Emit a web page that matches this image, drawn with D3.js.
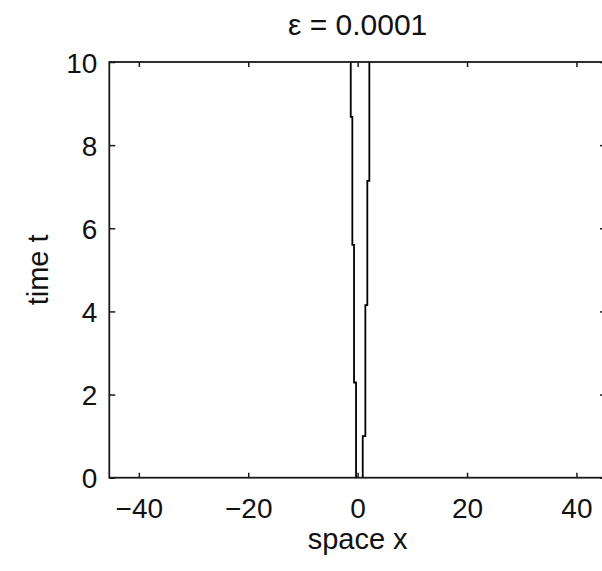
<!DOCTYPE html>
<html>
<head>
<meta charset="utf-8">
<script src="https://cdn.jsdelivr.net/npm/d3@7"></script>
<style>
  html, body { margin: 0; padding: 0; background: #fff; }
  svg { display: block; }
  text { font-family: "Liberation Sans", Arial, Helvetica, sans-serif; fill: #111; }
</style>
</head>
<body>
<svg id="chart" width="602" height="571"></svg>
<script>
// Axis ticks
const xTicks = [-40, -20, 0, 20, 40];
const yTicks = [0, 2, 4, 6, 8, 10];

// Left front: position in each time interval and the times where it jumps
const leftJumpTimes = [2.29, 5.6, 8.68];
const leftPositions = [-0.29, -0.66, -0.97, -1.26];

// Right front
const rightJumpTimes = [1.0, 4.15, 7.14];
const rightPositions = [0.93, 1.41, 1.77, 2.14];

const tMin = 0, tMax = 10;
const title = "ε = 0.0001";

const svg = d3.select("#chart");
const plotLeft = 109.3, plotTop = 62, plotBottom = 477.7;
const xScale = d3.scaleLinear().domain([-45.4, 45.4]).range([plotLeft, plotLeft + 90.8 * 5.47]);
const yScale = d3.scaleLinear().domain([tMin, tMax]).range([plotBottom, plotTop]);
const plotRight = xScale.range()[1];

const frameColor = "#1a1a1a";
const fontSize = 28;
const labelSize = 29;

// Bottom axis with inward ticks
const gx = svg.append("g").attr("transform", `translate(0,${plotBottom})`)
  .call(d3.axisBottom(xScale).tickValues(xTicks).tickSizeInner(-5).tickSizeOuter(0)
    .tickFormat(d => d < 0 ? "\u2212" + Math.abs(d) : String(d)));
gx.select(".domain").remove();
gx.selectAll(".tick line").attr("stroke", frameColor).attr("stroke-width", 1.5);
gx.selectAll(".tick text").attr("y", 40).attr("dy", null)
  .style("font-size", fontSize + "px").attr("fill", "#111");

// Top axis, ticks only
const gxt = svg.append("g").attr("transform", `translate(0,${plotTop})`)
  .call(d3.axisTop(xScale).tickValues(xTicks).tickSizeInner(-5).tickSizeOuter(0).tickFormat(""));
gxt.select(".domain").remove();
gxt.selectAll(".tick line").attr("stroke", frameColor).attr("stroke-width", 1.5);

// Left axis with inward ticks
const gy = svg.append("g").attr("transform", `translate(${plotLeft},0)`)
  .call(d3.axisLeft(yScale).tickValues(yTicks).tickSizeInner(-6).tickSizeOuter(0));
gy.select(".domain").remove();
gy.selectAll(".tick line").attr("stroke", frameColor).attr("stroke-width", 1.5);
gy.selectAll(".tick text").attr("x", -12).attr("dy", "0.36em")
  .style("font-size", fontSize + "px").attr("fill", "#111");

// Right axis, ticks only
const gyr = svg.append("g").attr("transform", `translate(${plotRight},0)`)
  .call(d3.axisRight(yScale).tickValues(yTicks).tickSizeInner(-6).tickSizeOuter(0).tickFormat(""));
gyr.select(".domain").remove();
gyr.selectAll(".tick line").attr("stroke", frameColor).attr("stroke-width", 1.5);

// Axes box
svg.append("rect")
  .attr("x", plotLeft).attr("y", plotTop)
  .attr("width", plotRight - plotLeft).attr("height", plotBottom - plotTop)
  .attr("fill", "none").attr("stroke", frameColor).attr("stroke-width", 1.8);

// Build step paths for the two fronts
function frontPoints(jumps, positions) {
  const times = [tMin, ...jumps, tMax];
  const pts = [];
  positions.forEach((x, i) => {
    pts.push([x, times[i]]);
    pts.push([x, times[i + 1]]);
  });
  return pts;
}
const line = d3.line().x(d => xScale(d[0])).y(d => yScale(d[1]));

[[leftJumpTimes, leftPositions], [rightJumpTimes, rightPositions]].forEach(([j, p]) => {
  svg.append("path")
    .attr("d", line(frontPoints(j, p)))
    .attr("fill", "none")
    .attr("stroke", "#000")
    .attr("stroke-width", 1.8);
});

// Title and axis labels
const cx = xScale(0);
svg.append("text").attr("x", cx).attr("y", 35).attr("text-anchor", "middle")
  .style("font-size", "30px").text(title);
svg.append("text").attr("x", cx).attr("y", 549).attr("text-anchor", "middle")
  .style("font-size", labelSize + "px").text("space x");
svg.append("text")
  .attr("transform", `translate(48,${(plotTop + plotBottom) / 2}) rotate(-90)`)
  .attr("text-anchor", "middle")
  .style("font-size", labelSize + "px").text("time t");
</script>
</body>
</html>
